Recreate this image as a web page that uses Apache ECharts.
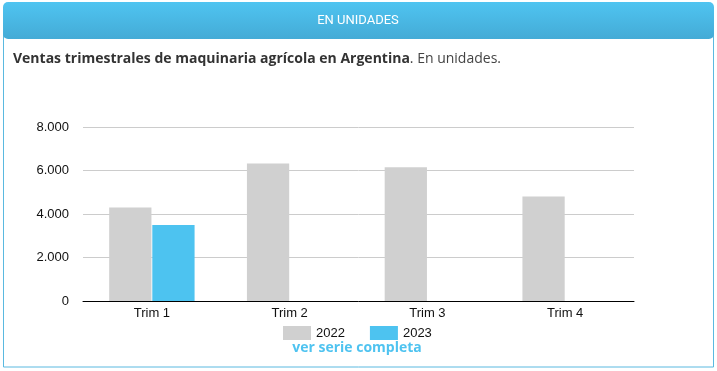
<!DOCTYPE html>
<html><head><meta charset="utf-8">
<script src="https://cdn.jsdelivr.net/npm/echarts@6/dist/echarts.min.js"></script>
<style>html,body{margin:0;padding:0;background:#fff}#c{width:717px;height:371px}</style>
</head><body><div id="c"></div>
<script>
const categories = ['Trim 1', 'Trim 2', 'Trim 3', 'Trim 4'];
const series2022 = [4300, 6320, 6150, 4800];
const series2023 = [3500, null, null, null];
const yTicks = [0, 2000, 4000, 6000, 8000];

const chart = echarts.init(document.getElementById('c'), null, {renderer: 'canvas'});
const fmt = v => String(v).replace(/\B(?=(\d{3})+(?!\d))/g, '.');
chart.setOption({
  animation: false,
  graphic: [
    {type: 'rect', shape: {x: 3.5, y: 20, width: 710, height: 347, r: 0}, style: {fill: '#fff', stroke: '#5ab9e0', lineWidth: 1}, z: 0},
    {type: 'rect', shape: {x: 3, y: 2, width: 711, height: 37, r: 5},
     style: {fill: {type: 'linear', x: 0, y: 0, x2: 0, y2: 1, colorStops: [{offset: 0, color: '#4fc4f1'}, {offset: 1, color: '#44abd6'}]}}, z: 1},
    {type: 'text', x: 358, y: 21, style: {text: 'EN UNIDADES', fill: '#fff', font: '13px Roboto', align: 'center', verticalAlign: 'middle'}, z: 2},
    {type: 'text', x: 13, y: 59, style: {
      text: '{b|Ventas trimestrales de maquinaria agrícola en Argentina}{n|. En unidades.}',
      verticalAlign: 'middle',
      rich: {b: {font: 'bold 14px "Open Sans"', fill: '#333'}, n: {font: '14px "Open Sans"', fill: '#444'}}
    }, z: 2},
    {type: 'text', x: 357, y: 348, style: {text: 'ver serie completa', fill: '#4fc3f0', font: 'bold 14px "Open Sans"', align: 'center', verticalAlign: 'middle'}, z: 2}
  ],
  legend: {
    data: ['2022', '2023'], top: 321, left: 278, itemWidth: 28, itemHeight: 14, itemGap: 25,
    icon: 'rect',
    textStyle: {fontFamily: '"Liberation Sans", Arial', fontSize: 13, color: '#111'}
  },
  grid: {left: 83, right: 83, top: 127, bottom: 70, containLabel: false},
  xAxis: {
    type: 'category', data: categories,
    axisLine: {lineStyle: {color: '#000', width: 1}},
    axisTick: {show: false},
    axisLabel: {fontFamily: '"Liberation Sans", Arial', fontSize: 13, color: '#111', margin: 6}
  },
  yAxis: {
    type: 'value', min: 0, max: 8000, interval: 2000,
    axisLine: {show: false}, axisTick: {show: false},
    splitLine: {lineStyle: {color: '#cccccc', width: 1}},
    axisLabel: {fontFamily: '"Liberation Sans", Arial', fontSize: 13, color: '#111', margin: 14,
      formatter: v => yTicks.includes(v) ? fmt(v) : ''}
  },
  series: [
    {name: '2022', type: 'bar', data: series2022, itemStyle: {color: '#d0d0d0'}, barGap: '2%', barCategoryGap: '38%'},
    {name: '2023', type: 'bar', data: series2023, itemStyle: {color: '#4dc3f0'}}
  ]
});
</script></body></html>
